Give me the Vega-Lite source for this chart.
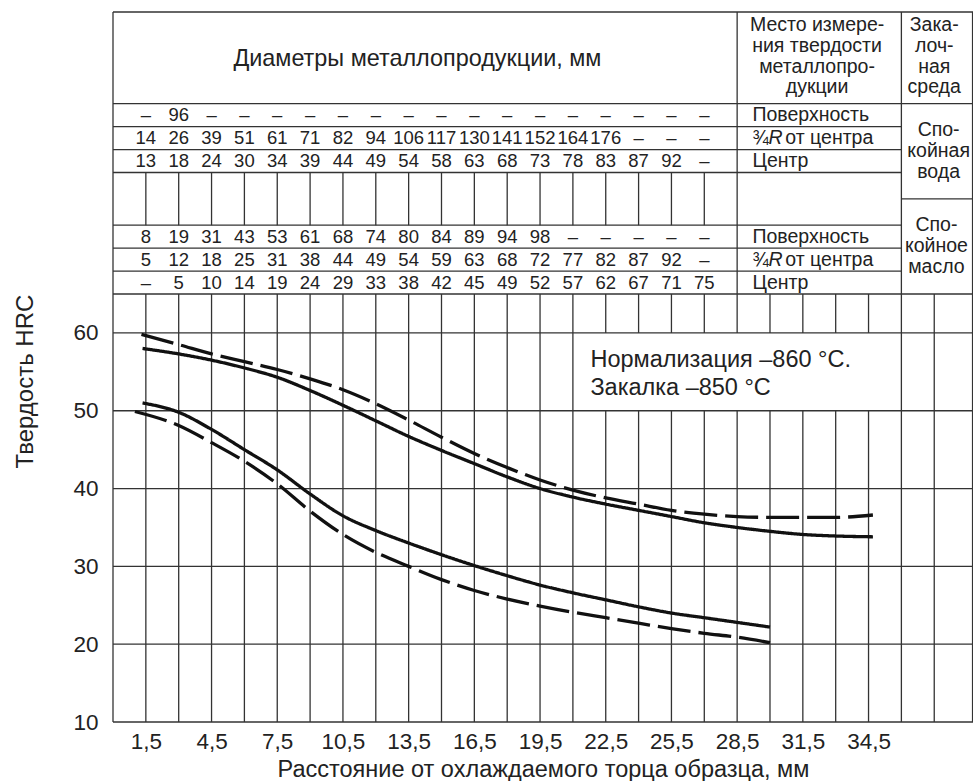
{
  "$schema": "https://vega.github.io/schema/vega-lite/v6.json",
  "background": "white",
  "padding": {"left": 12, "top": 11, "right": 0, "bottom": 0},
  "spacing": 0,
  "bounds": "flush",
  "config": {"font": "Liberation Sans", "view": {"stroke": null}, "text": {"color": "#222"}},
  "datasets": {
    "tableLines": [
      {"x": 0, "x2": 39.27, "y": 0, "y2": 0},
      {"x": 0, "x2": 39.27, "y": 4, "y2": 4},
      {"x": 0, "x2": 36, "y": 5, "y2": 5},
      {"x": 0, "x2": 36, "y": 6, "y2": 6},
      {"x": 0, "x2": 36, "y": 7, "y2": 7},
      {"x": 36, "x2": 39.27, "y": 8.15, "y2": 8.15},
      {"x": 0, "x2": 36, "y": 9.3, "y2": 9.3},
      {"x": 0, "x2": 36, "y": 10.3, "y2": 10.3},
      {"x": 0, "x2": 36, "y": 11.3, "y2": 11.3},
      {"x": 0, "x2": 0, "y": 0, "y2": 12.3},
      {"x": 28.5, "x2": 28.5, "y": 0, "y2": 12.3},
      {"x": 36, "x2": 36, "y": 0, "y2": 12.3},
      {"x": 39.25, "x2": 39.25, "y": 0, "y2": 12.3},
      {"x": 1.5, "x2": 1.5, "y": 7, "y2": 9.3},
      {"x": 3, "x2": 3, "y": 7, "y2": 9.3},
      {"x": 4.5, "x2": 4.5, "y": 7, "y2": 9.3},
      {"x": 6, "x2": 6, "y": 7, "y2": 9.3},
      {"x": 7.5, "x2": 7.5, "y": 7, "y2": 9.3},
      {"x": 9, "x2": 9, "y": 7, "y2": 9.3},
      {"x": 10.5, "x2": 10.5, "y": 7, "y2": 9.3},
      {"x": 12, "x2": 12, "y": 7, "y2": 9.3},
      {"x": 13.5, "x2": 13.5, "y": 7, "y2": 9.3},
      {"x": 15, "x2": 15, "y": 7, "y2": 9.3},
      {"x": 16.5, "x2": 16.5, "y": 7, "y2": 9.3},
      {"x": 18, "x2": 18, "y": 7, "y2": 9.3},
      {"x": 19.5, "x2": 19.5, "y": 7, "y2": 9.3},
      {"x": 21, "x2": 21, "y": 7, "y2": 9.3},
      {"x": 22.5, "x2": 22.5, "y": 7, "y2": 9.3},
      {"x": 24, "x2": 24, "y": 7, "y2": 9.3},
      {"x": 25.5, "x2": 25.5, "y": 7, "y2": 9.3},
      {"x": 27, "x2": 27, "y": 7, "y2": 9.3}
    ],
    "tableValues": [
      {"r": 4.5, "d": 1.5, "v": "–"}, {"r": 4.5, "d": 3, "v": "96"}, {"r": 4.5, "d": 4.5, "v": "–"}, {"r": 4.5, "d": 6, "v": "–"}, {"r": 4.5, "d": 7.5, "v": "–"}, {"r": 4.5, "d": 9, "v": "–"}, {"r": 4.5, "d": 10.5, "v": "–"}, {"r": 4.5, "d": 12, "v": "–"}, {"r": 4.5, "d": 13.5, "v": "–"}, {"r": 4.5, "d": 15, "v": "–"}, {"r": 4.5, "d": 16.5, "v": "–"}, {"r": 4.5, "d": 18, "v": "–"}, {"r": 4.5, "d": 19.5, "v": "–"}, {"r": 4.5, "d": 21, "v": "–"}, {"r": 4.5, "d": 22.5, "v": "–"}, {"r": 4.5, "d": 24, "v": "–"}, {"r": 4.5, "d": 25.5, "v": "–"}, {"r": 4.5, "d": 27, "v": "–"},
      {"r": 5.5, "d": 1.5, "v": "14"}, {"r": 5.5, "d": 3, "v": "26"}, {"r": 5.5, "d": 4.5, "v": "39"}, {"r": 5.5, "d": 6, "v": "51"}, {"r": 5.5, "d": 7.5, "v": "61"}, {"r": 5.5, "d": 9, "v": "71"}, {"r": 5.5, "d": 10.5, "v": "82"}, {"r": 5.5, "d": 12, "v": "94"}, {"r": 5.5, "d": 13.5, "v": "106"}, {"r": 5.5, "d": 15, "v": "117"}, {"r": 5.5, "d": 16.5, "v": "130"}, {"r": 5.5, "d": 18, "v": "141"}, {"r": 5.5, "d": 19.5, "v": "152"}, {"r": 5.5, "d": 21, "v": "164"}, {"r": 5.5, "d": 22.5, "v": "176"}, {"r": 5.5, "d": 24, "v": "–"}, {"r": 5.5, "d": 25.5, "v": "–"}, {"r": 5.5, "d": 27, "v": "–"},
      {"r": 6.5, "d": 1.5, "v": "13"}, {"r": 6.5, "d": 3, "v": "18"}, {"r": 6.5, "d": 4.5, "v": "24"}, {"r": 6.5, "d": 6, "v": "30"}, {"r": 6.5, "d": 7.5, "v": "34"}, {"r": 6.5, "d": 9, "v": "39"}, {"r": 6.5, "d": 10.5, "v": "44"}, {"r": 6.5, "d": 12, "v": "49"}, {"r": 6.5, "d": 13.5, "v": "54"}, {"r": 6.5, "d": 15, "v": "58"}, {"r": 6.5, "d": 16.5, "v": "63"}, {"r": 6.5, "d": 18, "v": "68"}, {"r": 6.5, "d": 19.5, "v": "73"}, {"r": 6.5, "d": 21, "v": "78"}, {"r": 6.5, "d": 22.5, "v": "83"}, {"r": 6.5, "d": 24, "v": "87"}, {"r": 6.5, "d": 25.5, "v": "92"}, {"r": 6.5, "d": 27, "v": "–"},
      {"r": 9.8, "d": 1.5, "v": "8"}, {"r": 9.8, "d": 3, "v": "19"}, {"r": 9.8, "d": 4.5, "v": "31"}, {"r": 9.8, "d": 6, "v": "43"}, {"r": 9.8, "d": 7.5, "v": "53"}, {"r": 9.8, "d": 9, "v": "61"}, {"r": 9.8, "d": 10.5, "v": "68"}, {"r": 9.8, "d": 12, "v": "74"}, {"r": 9.8, "d": 13.5, "v": "80"}, {"r": 9.8, "d": 15, "v": "84"}, {"r": 9.8, "d": 16.5, "v": "89"}, {"r": 9.8, "d": 18, "v": "94"}, {"r": 9.8, "d": 19.5, "v": "98"}, {"r": 9.8, "d": 21, "v": "–"}, {"r": 9.8, "d": 22.5, "v": "–"}, {"r": 9.8, "d": 24, "v": "–"}, {"r": 9.8, "d": 25.5, "v": "–"}, {"r": 9.8, "d": 27, "v": "–"},
      {"r": 10.8, "d": 1.5, "v": "5"}, {"r": 10.8, "d": 3, "v": "12"}, {"r": 10.8, "d": 4.5, "v": "18"}, {"r": 10.8, "d": 6, "v": "25"}, {"r": 10.8, "d": 7.5, "v": "31"}, {"r": 10.8, "d": 9, "v": "38"}, {"r": 10.8, "d": 10.5, "v": "44"}, {"r": 10.8, "d": 12, "v": "49"}, {"r": 10.8, "d": 13.5, "v": "54"}, {"r": 10.8, "d": 15, "v": "59"}, {"r": 10.8, "d": 16.5, "v": "63"}, {"r": 10.8, "d": 18, "v": "68"}, {"r": 10.8, "d": 19.5, "v": "72"}, {"r": 10.8, "d": 21, "v": "77"}, {"r": 10.8, "d": 22.5, "v": "82"}, {"r": 10.8, "d": 24, "v": "87"}, {"r": 10.8, "d": 25.5, "v": "92"}, {"r": 10.8, "d": 27, "v": "–"},
      {"r": 11.8, "d": 1.5, "v": "–"}, {"r": 11.8, "d": 3, "v": "5"}, {"r": 11.8, "d": 4.5, "v": "10"}, {"r": 11.8, "d": 6, "v": "14"}, {"r": 11.8, "d": 7.5, "v": "19"}, {"r": 11.8, "d": 9, "v": "24"}, {"r": 11.8, "d": 10.5, "v": "29"}, {"r": 11.8, "d": 12, "v": "33"}, {"r": 11.8, "d": 13.5, "v": "38"}, {"r": 11.8, "d": 15, "v": "42"}, {"r": 11.8, "d": 16.5, "v": "45"}, {"r": 11.8, "d": 18, "v": "49"}, {"r": 11.8, "d": 19.5, "v": "52"}, {"r": 11.8, "d": 21, "v": "57"}, {"r": 11.8, "d": 22.5, "v": "62"}, {"r": 11.8, "d": 24, "v": "67"}, {"r": 11.8, "d": 25.5, "v": "71"}, {"r": 11.8, "d": 27, "v": "75"}
    ],
    "rowLabels": [
      {"x": 29.2, "r": 4.5, "t": "Поверхность"},
      {"x": 29.2, "r": 5.5, "t": "¾"},
      {"x": 30.7, "r": 5.5, "t": "от центра"},
      {"x": 29.2, "r": 6.5, "t": "Центр"},
      {"x": 29.2, "r": 9.8, "t": "Поверхность"},
      {"x": 29.2, "r": 10.8, "t": "¾"},
      {"x": 30.7, "r": 10.8, "t": "от центра"},
      {"x": 29.2, "r": 11.8, "t": "Центр"}
    ],
    "italicLabels": [
      {"x": 29.93, "r": 5.5, "t": "R"},
      {"x": 29.93, "r": 10.8, "t": "R"}
    ],
    "blockLabels": [
      {"x": 32.15, "r": 0.57, "t": "Место измере-\nния твердости\nметаллопро-\nдукции"},
      {"x": 37.5, "r": 0.57, "t": "Зака-\nлоч-\nная\nсреда"},
      {"x": 37.7, "r": 5.15, "t": "Спо-\nкойная\nвода"},
      {"x": 37.6, "r": 9.29, "t": "Спо-\nкойное\nмасло"}
    ],
    "plotGrid": [
      {"x": 0, "x2": 39.27, "y": 10, "y2": 10},
      {"x": 0, "x2": 39.27, "y": 20, "y2": 20},
      {"x": 0, "x2": 39.27, "y": 30, "y2": 30},
      {"x": 0, "x2": 39.27, "y": 40, "y2": 40},
      {"x": 0, "x2": 39.27, "y": 50, "y2": 50},
      {"x": 0, "x2": 39.27, "y": 60, "y2": 60},
      {"x": 0, "x2": 39.27, "y": 65, "y2": 65},
      {"x": 0, "x2": 0, "y": 10, "y2": 65},
      {"x": 1.5, "x2": 1.5, "y": 10, "y2": 65},
      {"x": 3, "x2": 3, "y": 10, "y2": 65},
      {"x": 4.5, "x2": 4.5, "y": 10, "y2": 65},
      {"x": 6, "x2": 6, "y": 10, "y2": 65},
      {"x": 7.5, "x2": 7.5, "y": 10, "y2": 65},
      {"x": 9, "x2": 9, "y": 10, "y2": 65},
      {"x": 10.5, "x2": 10.5, "y": 10, "y2": 65},
      {"x": 12, "x2": 12, "y": 10, "y2": 65},
      {"x": 13.5, "x2": 13.5, "y": 10, "y2": 65},
      {"x": 15, "x2": 15, "y": 10, "y2": 65},
      {"x": 16.5, "x2": 16.5, "y": 10, "y2": 65},
      {"x": 18, "x2": 18, "y": 10, "y2": 65},
      {"x": 19.5, "x2": 19.5, "y": 10, "y2": 65},
      {"x": 21, "x2": 21, "y": 10, "y2": 65},
      {"x": 22.5, "x2": 22.5, "y": 10, "y2": 50}, {"x": 22.5, "x2": 22.5, "y": 60, "y2": 65},
      {"x": 24, "x2": 24, "y": 10, "y2": 50}, {"x": 24, "x2": 24, "y": 60, "y2": 65},
      {"x": 25.5, "x2": 25.5, "y": 10, "y2": 50}, {"x": 25.5, "x2": 25.5, "y": 60, "y2": 65},
      {"x": 27, "x2": 27, "y": 10, "y2": 50}, {"x": 27, "x2": 27, "y": 60, "y2": 65},
      {"x": 28.5, "x2": 28.5, "y": 10, "y2": 50}, {"x": 28.5, "x2": 28.5, "y": 60, "y2": 65},
      {"x": 30, "x2": 30, "y": 10, "y2": 50}, {"x": 30, "x2": 30, "y": 60, "y2": 65},
      {"x": 31.5, "x2": 31.5, "y": 10, "y2": 50}, {"x": 31.5, "x2": 31.5, "y": 60, "y2": 65},
      {"x": 33, "x2": 33, "y": 10, "y2": 50}, {"x": 33, "x2": 33, "y": 60, "y2": 65},
      {"x": 34.5, "x2": 34.5, "y": 10, "y2": 50}, {"x": 34.5, "x2": 34.5, "y": 60, "y2": 65},
      {"x": 36, "x2": 36, "y": 10, "y2": 65},
      {"x": 37.5, "x2": 37.5, "y": 10, "y2": 65},
      {"x": 39.25, "x2": 39.25, "y": 10, "y2": 65}
    ],
    "curves": [
      {"c": "A", "s": "dashed", "x": 1.3, "y": 59.8}, {"c": "A", "s": "dashed", "x": 3, "y": 58.5}, {"c": "A", "s": "dashed", "x": 4.5, "y": 57.3}, {"c": "A", "s": "dashed", "x": 6, "y": 56.3}, {"c": "A", "s": "dashed", "x": 7.5, "y": 55.3}, {"c": "A", "s": "dashed", "x": 9, "y": 54.1}, {"c": "A", "s": "dashed", "x": 10.5, "y": 52.7}, {"c": "A", "s": "dashed", "x": 12, "y": 50.9}, {"c": "A", "s": "dashed", "x": 13.5, "y": 48.8}, {"c": "A", "s": "dashed", "x": 15, "y": 46.6}, {"c": "A", "s": "dashed", "x": 16.5, "y": 44.5}, {"c": "A", "s": "dashed", "x": 18, "y": 42.7}, {"c": "A", "s": "dashed", "x": 19.5, "y": 41.1}, {"c": "A", "s": "dashed", "x": 21, "y": 39.8}, {"c": "A", "s": "dashed", "x": 22.5, "y": 38.8}, {"c": "A", "s": "dashed", "x": 24, "y": 38.0}, {"c": "A", "s": "dashed", "x": 25.5, "y": 37.2}, {"c": "A", "s": "dashed", "x": 27, "y": 36.7}, {"c": "A", "s": "dashed", "x": 28.5, "y": 36.4}, {"c": "A", "s": "dashed", "x": 30, "y": 36.3}, {"c": "A", "s": "dashed", "x": 31.5, "y": 36.3}, {"c": "A", "s": "dashed", "x": 33, "y": 36.3}, {"c": "A", "s": "dashed", "x": 34.7, "y": 36.6},
      {"c": "B", "s": "solid", "x": 1.35, "y": 58.0}, {"c": "B", "s": "solid", "x": 3, "y": 57.3}, {"c": "B", "s": "solid", "x": 4.5, "y": 56.5}, {"c": "B", "s": "solid", "x": 6, "y": 55.5}, {"c": "B", "s": "solid", "x": 7.5, "y": 54.3}, {"c": "B", "s": "solid", "x": 9, "y": 52.6}, {"c": "B", "s": "solid", "x": 10.5, "y": 50.7}, {"c": "B", "s": "solid", "x": 12, "y": 48.7}, {"c": "B", "s": "solid", "x": 13.5, "y": 46.7}, {"c": "B", "s": "solid", "x": 15, "y": 44.9}, {"c": "B", "s": "solid", "x": 16.5, "y": 43.2}, {"c": "B", "s": "solid", "x": 18, "y": 41.5}, {"c": "B", "s": "solid", "x": 19.5, "y": 40.0}, {"c": "B", "s": "solid", "x": 21, "y": 38.9}, {"c": "B", "s": "solid", "x": 22.5, "y": 38.0}, {"c": "B", "s": "solid", "x": 24, "y": 37.2}, {"c": "B", "s": "solid", "x": 25.5, "y": 36.4}, {"c": "B", "s": "solid", "x": 27, "y": 35.6}, {"c": "B", "s": "solid", "x": 28.5, "y": 35.0}, {"c": "B", "s": "solid", "x": 30, "y": 34.5}, {"c": "B", "s": "solid", "x": 31.5, "y": 34.1}, {"c": "B", "s": "solid", "x": 33, "y": 33.9}, {"c": "B", "s": "solid", "x": 34.7, "y": 33.8},
      {"c": "C", "s": "solid", "x": 1.35, "y": 51.0}, {"c": "C", "s": "solid", "x": 3, "y": 49.8}, {"c": "C", "s": "solid", "x": 4.5, "y": 47.6}, {"c": "C", "s": "solid", "x": 6, "y": 45.0}, {"c": "C", "s": "solid", "x": 7.5, "y": 42.4}, {"c": "C", "s": "solid", "x": 9, "y": 39.3}, {"c": "C", "s": "solid", "x": 10.5, "y": 36.5}, {"c": "C", "s": "solid", "x": 12, "y": 34.6}, {"c": "C", "s": "solid", "x": 13.5, "y": 33.0}, {"c": "C", "s": "solid", "x": 15, "y": 31.5}, {"c": "C", "s": "solid", "x": 16.5, "y": 30.1}, {"c": "C", "s": "solid", "x": 18, "y": 28.8}, {"c": "C", "s": "solid", "x": 19.5, "y": 27.6}, {"c": "C", "s": "solid", "x": 21, "y": 26.6}, {"c": "C", "s": "solid", "x": 22.5, "y": 25.7}, {"c": "C", "s": "solid", "x": 24, "y": 24.8}, {"c": "C", "s": "solid", "x": 25.5, "y": 24.0}, {"c": "C", "s": "solid", "x": 27, "y": 23.4}, {"c": "C", "s": "solid", "x": 28.5, "y": 22.8}, {"c": "C", "s": "solid", "x": 30, "y": 22.2},
      {"c": "D", "s": "dashed", "x": 1.0, "y": 49.9}, {"c": "D", "s": "dashed", "x": 3, "y": 48.1}, {"c": "D", "s": "dashed", "x": 4.5, "y": 45.9}, {"c": "D", "s": "dashed", "x": 6, "y": 43.5}, {"c": "D", "s": "dashed", "x": 7.5, "y": 40.6}, {"c": "D", "s": "dashed", "x": 9, "y": 37.1}, {"c": "D", "s": "dashed", "x": 10.5, "y": 34.1}, {"c": "D", "s": "dashed", "x": 12, "y": 31.8}, {"c": "D", "s": "dashed", "x": 13.5, "y": 30.0}, {"c": "D", "s": "dashed", "x": 15, "y": 28.3}, {"c": "D", "s": "dashed", "x": 16.5, "y": 26.9}, {"c": "D", "s": "dashed", "x": 18, "y": 25.8}, {"c": "D", "s": "dashed", "x": 19.5, "y": 24.9}, {"c": "D", "s": "dashed", "x": 21, "y": 24.1}, {"c": "D", "s": "dashed", "x": 22.5, "y": 23.4}, {"c": "D", "s": "dashed", "x": 24, "y": 22.7}, {"c": "D", "s": "dashed", "x": 25.5, "y": 22.0}, {"c": "D", "s": "dashed", "x": 27, "y": 21.4}, {"c": "D", "s": "dashed", "x": 28.5, "y": 20.9}, {"c": "D", "s": "dashed", "x": 30, "y": 20.2}
    ]
  },
  "vconcat": [
    {
      "width": 860,
      "height": 282,
      "layer": [
        {
          "data": {"name": "tableLines"},
          "mark": {"type": "rule", "color": "#333", "strokeWidth": 1.3},
          "encoding": {
            "x": {"field": "x", "type": "quantitative", "scale": {"domain": [0, 39.27]}, "axis": null},
            "x2": {"field": "x2"},
            "y": {"field": "y", "type": "quantitative", "scale": {"domain": [0, 12.3], "reverse": true}, "axis": null},
            "y2": {"field": "y2"}
          }
        },
        {
          "data": {"values": [{"x": 13.9, "r": 2.05, "t": "Диаметры металлопродукции, мм"}]},
          "mark": {"type": "text", "fontSize": 23.4, "align": "center", "baseline": "middle"},
          "encoding": {
            "x": {"field": "x", "type": "quantitative", "scale": {"domain": [0, 39.27]}, "axis": null},
            "y": {"field": "r", "type": "quantitative", "scale": {"domain": [0, 12.3], "reverse": true}, "axis": null},
            "text": {"field": "t"}
          }
        },
        {
          "data": {"name": "blockLabels"},
          "mark": {"type": "text", "fontSize": 19.5, "align": "center", "baseline": "middle", "lineBreak": "\n", "lineHeight": 20.8},
          "encoding": {
            "x": {"field": "x", "type": "quantitative", "scale": {"domain": [0, 39.27]}, "axis": null},
            "y": {"field": "r", "type": "quantitative", "scale": {"domain": [0, 12.3], "reverse": true}, "axis": null},
            "text": {"field": "t"}
          }
        },
        {
          "data": {"name": "rowLabels"},
          "mark": {"type": "text", "fontSize": 19.5, "align": "left", "baseline": "middle"},
          "encoding": {
            "x": {"field": "x", "type": "quantitative", "scale": {"domain": [0, 39.27]}, "axis": null},
            "y": {"field": "r", "type": "quantitative", "scale": {"domain": [0, 12.3], "reverse": true}, "axis": null},
            "text": {"field": "t"}
          }
        },
        {
          "data": {"name": "italicLabels"},
          "mark": {"type": "text", "fontSize": 19.5, "fontStyle": "italic", "align": "left", "baseline": "middle"},
          "encoding": {
            "x": {"field": "x", "type": "quantitative", "scale": {"domain": [0, 39.27]}, "axis": null},
            "y": {"field": "r", "type": "quantitative", "scale": {"domain": [0, 12.3], "reverse": true}, "axis": null},
            "text": {"field": "t"}
          }
        },
        {
          "data": {"name": "tableValues"},
          "mark": {"type": "text", "fontSize": 18.5, "align": "center", "baseline": "middle"},
          "encoding": {
            "x": {"field": "d", "type": "quantitative", "scale": {"domain": [0, 39.27]}, "axis": null},
            "y": {"field": "r", "type": "quantitative", "scale": {"domain": [0, 12.3], "reverse": true}, "axis": null},
            "text": {"field": "v"}
          }
        }
      ]
    },
    {
      "width": 860,
      "height": 428,
      "layer": [
        {
          "data": {"name": "plotGrid"},
          "mark": {"type": "rule", "color": "#333", "strokeWidth": 1.3},
          "encoding": {
            "x": {
              "field": "x", "type": "quantitative", "scale": {"domain": [0, 39.27]},
              "axis": {
                "title": "Расстояние от охлаждаемого торца образца, мм",
                "values": [1.5, 4.5, 7.5, 10.5, 13.5, 16.5, 19.5, 22.5, 25.5, 28.5, 31.5, 34.5],
                "labelExpr": "replace(format(datum.value, '.1f'), '.', ',')",
                "grid": false, "ticks": false, "domain": false,
                "labelFontSize": 22.5, "labelColor": "#222", "labelPadding": 8,
                "titleFontSize": 23.5, "titleColor": "#222", "titleFontWeight": "normal", "titlePadding": 5
              }
            },
            "x2": {"field": "x2"},
            "y": {
              "field": "y", "type": "quantitative", "scale": {"domain": [10, 65]},
              "axis": {
                "title": "Твердость HRC",
                "values": [10, 20, 30, 40, 50, 60],
                "grid": false, "ticks": false, "domain": false,
                "labelFontSize": 22.5, "labelColor": "#222", "labelPadding": 15,
                "titleFontSize": 24, "titleColor": "#222", "titleFontWeight": "normal",
                "titleX": -88, "titleY": 87, "titleBaseline": "middle", "titleAngle": -90
              }
            },
            "y2": {"field": "y2"}
          }
        },
        {
          "data": {"name": "curves"},
          "mark": {"type": "line", "interpolate": "monotone", "strokeWidth": 3.3, "color": "#111"},
          "encoding": {
            "x": {"field": "x", "type": "quantitative", "scale": {"domain": [0, 39.27]}},
            "y": {"field": "y", "type": "quantitative", "scale": {"domain": [10, 65]}},
            "detail": {"field": "c"},
            "strokeDash": {"field": "s", "type": "nominal", "scale": {"domain": ["solid", "dashed"], "range": [[1, 0], [33, 8]]}, "legend": null}
          }
        },
        {
          "data": {"values": [{"x": 21.8, "y": 56.5, "t": "Нормализация –860 °C.\nЗакалка –850 °C"}]},
          "mark": {"type": "text", "fontSize": 23.5, "align": "left", "baseline": "middle", "lineBreak": "\n", "lineHeight": 28},
          "encoding": {
            "x": {"field": "x", "type": "quantitative", "scale": {"domain": [0, 39.27]}},
            "y": {"field": "y", "type": "quantitative", "scale": {"domain": [10, 65]}},
            "text": {"field": "t"}
          }
        }
      ]
    }
  ]
}
